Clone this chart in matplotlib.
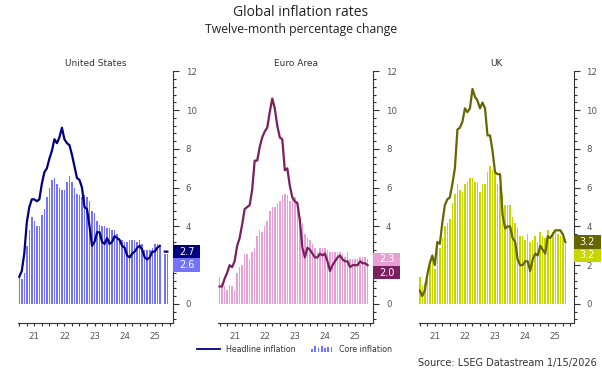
import numpy as np
import matplotlib
matplotlib.use("Agg")
import matplotlib.pyplot as plt
from matplotlib.patches import Rectangle
from matplotlib.lines import Line2D
from matplotlib.legend_handler import HandlerBase
from matplotlib.ticker import MultipleLocator, FixedLocator, FuncFormatter
import matplotlib.transforms as mtransforms

nan = np.nan

# Monthly values, Jan 2021 .. Dec 2025 (index 0..59)
regions = ["United States", "Euro Area", "UK"]

us_headline = [1.4, 1.7, 2.6, 4.2, 5.0, 5.4, 5.4, 5.3, 5.4, 6.2, 6.8, 7.0,
               7.5, 7.9, 8.5, 8.3, 8.6, 9.1, 8.5, 8.3, 8.2, 7.7, 7.1, 6.5,
               6.4, 6.0, 5.0, 4.9, 4.0, 3.0, 3.2, 3.7, 3.7, 3.2, 3.1, 3.4,
               3.1, 3.2, 3.5, 3.4, 3.3, 3.0, 2.9, 2.5, 2.4, 2.6, 2.7, 2.9,
               3.0, 2.8, 2.4, 2.3, 2.4, 2.7, 2.7, 2.9, 3.0, nan, 2.7, 2.7]
us_core = [1.4, 1.3, 1.6, 3.0, 3.8, 4.5, 4.3, 4.0, 4.0, 4.6, 4.9, 5.5,
           6.0, 6.4, 6.5, 6.2, 6.0, 5.9, 5.9, 6.3, 6.6, 6.3, 6.0, 5.7,
           5.6, 5.5, 5.6, 5.5, 5.3, 4.8, 4.7, 4.3, 4.1, 4.0, 4.0, 3.9,
           3.9, 3.8, 3.8, 3.6, 3.4, 3.3, 3.2, 3.2, 3.3, 3.3, 3.3, 3.2,
           3.3, 3.1, 2.8, 2.8, 2.8, 2.9, 3.1, 3.1, 3.0, nan, 2.6, 2.6]

ea_headline = [0.9, 0.9, 1.3, 1.6, 2.0, 1.9, 2.2, 3.0, 3.4, 4.1, 4.9, 5.0,
               5.1, 5.9, 7.4, 7.4, 8.1, 8.6, 8.9, 9.1, 9.9, 10.6, 10.1, 9.2,
               8.6, 8.5, 6.9, 7.0, 6.1, 5.5, 5.3, 5.2, 4.3, 2.9, 2.4, 2.9,
               2.8, 2.6, 2.4, 2.4, 2.6, 2.5, 2.6, 2.2, 1.7, 2.0, 2.2, 2.4,
               2.5, 2.3, 2.2, 2.2, 1.9, 2.0, 2.0, 2.0, 2.2, 2.1, 2.1, 2.0]
ea_core = [1.4, 1.1, 0.9, 0.7, 1.0, 0.9, 0.7, 1.6, 1.9, 2.0, 2.6, 2.6,
           2.3, 2.7, 2.9, 3.5, 3.8, 3.7, 4.0, 4.3, 4.8, 5.0, 5.0, 5.2,
           5.3, 5.6, 5.7, 5.6, 5.3, 5.5, 5.5, 5.3, 4.5, 4.2, 3.6, 3.4,
           3.3, 3.1, 2.9, 2.7, 2.9, 2.9, 2.9, 2.8, 2.7, 2.7, 2.7, 2.7,
           2.7, 2.6, 2.4, 2.7, 2.3, 2.3, 2.3, 2.3, 2.4, 2.4, 2.4, 2.3]

uk_headline = [0.7, 0.4, 0.7, 1.5, 2.1, 2.5, 2.0, 3.2, 3.1, 4.2, 5.1, 5.4,
               5.5, 6.2, 7.0, 9.0, 9.1, 9.4, 10.1, 9.9, 10.1, 11.1, 10.7, 10.5,
               10.1, 10.4, 10.1, 8.7, 8.7, 7.9, 6.8, 6.7, 6.7, 4.6, 3.9, 4.0,
               4.0, 3.4, 3.2, 2.3, 2.0, 2.0, 2.2, 2.2, 1.7, 2.3, 2.6, 2.5,
               3.0, 2.8, 2.6, 3.5, 3.4, 3.6, 3.8, 3.8, 3.8, 3.6, 3.2, nan]
uk_core = [1.4, 0.9, 1.1, 1.3, 2.0, 2.3, 1.8, 3.1, 2.9, 3.4, 4.0, 4.2,
           4.4, 5.2, 5.7, 6.2, 5.9, 5.8, 6.2, 6.3, 6.5, 6.5, 6.3, 6.3,
           5.8, 6.2, 6.2, 6.8, 7.1, 6.9, 6.9, 6.2, 6.1, 5.7, 5.1, 5.1,
           5.1, 4.5, 4.2, 3.9, 3.5, 3.5, 3.3, 3.6, 3.2, 3.3, 3.5, 3.2,
           3.7, 3.5, 3.4, 3.8, 3.5, 3.7, 3.8, 3.6, 3.5, 3.4, 3.2, nan]

headlines = [us_headline, ea_headline, uk_headline]
cores = [us_core, ea_core, uk_core]
year_labels = ["21", "22", "23", "24", "25"]

line_colors = ["#000080", "#7b1f60", "#666600"]
bar_colors = ["#7373ff", "#e8a0d4", "#c8d600"]

W, H = 602, 371
fig = plt.figure(figsize=(W / 100, H / 100), dpi=100)

AX_LEFT = [18.0, 218.3, 418.5]   # pixels
AX_W = 155.1
AX_TOP, AX_BOT = 71.5, 323.3
TXT = "#555555"
AXC = "#333333"
BADGE_W = 27.0      # pixels
BADGE_H = 0.69      # data units


class BarIconHandler(HandlerBase):
    def create_artists(self, legend, orig, xd, yd, width, height, fontsize, trans):
        hs = [0.55, 0.9, 0.7, 1.0, 0.6, 0.85, 0.75]
        n = len(hs)
        step = width / n
        out = []
        for i, h in enumerate(hs):
            r = Rectangle((xd + i * step + step * 0.2, yd - height * 0.15),
                          step * 0.55, height * 1.2 * h,
                          facecolor=orig.get_facecolor(), edgecolor="none",
                          transform=trans)
            out.append(r)
        return out


for k in range(3):
    ax = fig.add_axes([AX_LEFT[k] / W, (H - AX_BOT) / H, AX_W / W, (AX_BOT - AX_TOP) / H])
    n = len(headlines[k])
    idx = np.arange(n)
    head = np.array(headlines[k], dtype=float)
    core = np.array(cores[k], dtype=float)
    ok = ~np.isnan(core)
    ax.bar(idx[ok], core[ok], width=0.6, color=bar_colors[k], linewidth=0, zorder=2)
    ax.plot(idx, head, color=line_colors[k], lw=1.6, zorder=3, solid_joinstyle="round")

    ax.set_xlim(-0.5, 61.3)
    ax.set_ylim(-1, 12)

    for s in ["left", "top"]:
        ax.spines[s].set_visible(False)
    for s in ["right", "bottom"]:
        ax.spines[s].set_color(AXC)
        ax.spines[s].set_linewidth(0.8)

    # latest-value badges: higher value at its level, the other pushed below
    last_h = head[~np.isnan(head)][-1]
    last_c = core[~np.isnan(core)][-1]
    items = [(last_h, line_colors[k]), (last_c, bar_colors[k])]
    items.sort(key=lambda t: -t[0])
    badges = []
    prev = None
    for val, col in items:
        yc = val if prev is None else min(val, prev - BADGE_H)
        prev = yc
        badges.append((val, col, yc))

    def fmt(v, pos, centers=[b[2] for b in badges]):
        for c in centers:
            if abs(v - c) < BADGE_H / 2 + 0.15:
                return ""
        return f"{v:g}"

    ax.yaxis.tick_right()
    ax.yaxis.set_major_locator(MultipleLocator(2))
    ax.yaxis.set_major_formatter(FuncFormatter(fmt))
    ax.yaxis.set_minor_locator(MultipleLocator(0.4))
    ax.tick_params(axis="y", which="major", length=4, width=0.8, color=AXC,
                   labelsize=6.2, labelcolor=TXT, pad=5)
    ax.tick_params(axis="y", which="minor", length=2, width=0.8, color=AXC)

    ax.xaxis.remove_overlapping_locs = False
    ax.xaxis.set_major_locator(FixedLocator([6 + 12 * j for j in range(len(year_labels))]))
    ax.set_xticklabels(year_labels)
    ax.xaxis.set_minor_locator(FixedLocator(np.arange(0, 61, 3)))
    ax.tick_params(axis="x", which="major", length=0, labelsize=6.2, labelcolor=TXT, pad=6)
    ax.tick_params(axis="x", which="minor", length=2.5, width=0.8, color=AXC)

    ax.set_title(regions[k], fontsize=6.5, color="#333333", pad=4)

    trans = mtransforms.blended_transform_factory(ax.transAxes, ax.transData)
    bw = BADGE_W / AX_W
    for val, col, yc in badges:
        ax.add_patch(Rectangle((1.0, yc - BADGE_H / 2), bw, BADGE_H, transform=trans,
                               facecolor=col, edgecolor="none", clip_on=False, zorder=5))
        ax.text(1.0 + bw / 2, yc, f"{val:.1f}", transform=trans, ha="center", va="center",
                color="white", fontsize=7, zorder=6, clip_on=False)

fig.text(0.5, 1 - 12.5 / H, "Global inflation rates", ha="center", va="center",
         fontsize=10, family="Open Sans", color="#222222")
fig.text(0.5, 1 - 30 / H, "Twelve-month percentage change", ha="center", va="center",
         fontsize=8.8, family="Open Sans", color="#222222")

h_line = Line2D([], [], color=line_colors[0], lw=1.3)
h_bars = Rectangle((0, 0), 1, 1, facecolor=bar_colors[0])
fig.legend([h_line, h_bars], ["Headline inflation", "Core inflation"],
           handler_map={Rectangle: BarIconHandler()},
           loc="center", bbox_to_anchor=(294.5 / W, 1 - 349 / H), ncol=2, frameon=False,
           fontsize=5.7, handlelength=2.9, handletextpad=0.75, columnspacing=1.9,
           labelcolor="#333333")

fig.text(597 / W, 1 - 363 / H, "Source: LSEG Datastream 1/15/2026", ha="right", va="center",
         fontsize=7, color="#333333")

fig.savefig("out.png", dpi=100)
